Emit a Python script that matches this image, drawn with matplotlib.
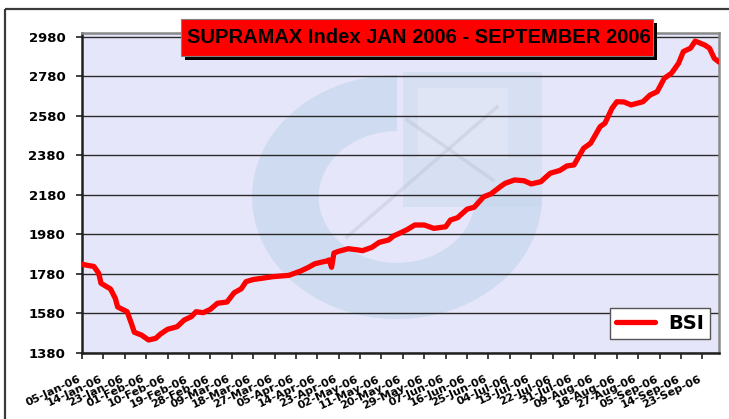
import matplotlib
matplotlib.use('Agg')
import matplotlib.pyplot as plt
from matplotlib.patches import Rectangle, Wedge
from matplotlib.transforms import Affine2D, ScaledTranslation
from matplotlib.lines import Line2D
import datetime as dt

# ---------------- data ----------------
dates = ['2006-01-05', '2006-01-10', '2006-01-12', '2006-01-13', '2006-01-17', '2006-01-19',
         '2006-01-20', '2006-01-24', '2006-01-26', '2006-01-27', '2006-01-30', '2006-02-02',
         '2006-02-05', '2006-02-07', '2006-02-10', '2006-02-14', '2006-02-17', '2006-02-20',
         '2006-02-22', '2006-02-25', '2006-02-28', '2006-03-03', '2006-03-07', '2006-03-10',
         '2006-03-13', '2006-03-15', '2006-03-18', '2006-03-21', '2006-03-26', '2006-04-02',
         '2006-04-07', '2006-04-10', '2006-04-13', '2006-04-18', '2006-04-19', '2006-04-20',
         '2006-04-21', '2006-04-23', '2006-04-27', '2006-05-01', '2006-05-03', '2006-05-07',
         '2006-05-10', '2006-05-14', '2006-05-16', '2006-05-20', '2006-05-22', '2006-05-25',
         '2006-05-29', '2006-06-02', '2006-06-07', '2006-06-09', '2006-06-12', '2006-06-16',
         '2006-06-19', '2006-06-23', '2006-06-26', '2006-06-30', '2006-07-02', '2006-07-06',
         '2006-07-10', '2006-07-13', '2006-07-17', '2006-07-21', '2006-07-25', '2006-07-28',
         '2006-07-31', '2006-08-04', '2006-08-07', '2006-08-11', '2006-08-13', '2006-08-16',
         '2006-08-18', '2006-08-21', '2006-08-24', '2006-08-29', '2006-09-01', '2006-09-04',
         '2006-09-07', '2006-09-10', '2006-09-13', '2006-09-15', '2006-09-18', '2006-09-20',
         '2006-09-24', '2006-09-26', '2006-09-28', '2006-09-30']
bsi = [1829, 1818, 1784, 1733, 1704, 1657,
       1613, 1589, 1522, 1485, 1471, 1446,
       1454, 1476, 1500, 1513, 1547, 1564,
       1589, 1584, 1601, 1632, 1638, 1685,
       1705, 1741, 1752, 1757, 1766, 1773,
       1795, 1812, 1832, 1846, 1851, 1814,
       1886, 1895, 1908, 1902, 1898, 1915,
       1940, 1952, 1972, 1994, 2006, 2028,
       2028, 2011, 2019, 2053, 2065, 2108,
       2118, 2171, 2185, 2222, 2239, 2256,
       2252, 2236, 2247, 2290, 2304, 2327,
       2332, 2416, 2442, 2526, 2543, 2619,
       2652, 2651, 2636, 2652, 2686, 2703,
       2771, 2796, 2847, 2906, 2923, 2959,
       2939, 2923, 2872, 2853]

tick_dates = ['2006-01-05', '2006-01-14', '2006-01-23', '2006-02-01', '2006-02-10', '2006-02-19',
              '2006-02-28', '2006-03-09', '2006-03-18', '2006-03-27', '2006-04-05', '2006-04-14',
              '2006-04-23', '2006-05-02', '2006-05-11', '2006-05-20', '2006-05-29', '2006-06-07',
              '2006-06-16', '2006-06-25', '2006-07-04', '2006-07-13', '2006-07-22', '2006-07-31',
              '2006-08-09', '2006-08-18', '2006-08-27', '2006-09-05', '2006-09-14', '2006-09-23']
tick_labels = ['05-Jan-06', '14-Jan-06', '23-Jan-06', '01-Feb-06', '10-Feb-06', '19-Feb-06',
               '28-Feb-06', '09-Mar-06', '18-Mar-06', '27-Mar-06', '05-Apr-06', '14-Apr-06',
               '23-Apr-06', '02-May-06', '11-May-06', '20-May-06', '29-May-06', '07-Jun-06',
               '16-Jun-06', '25-Jun-06', '04-Jul-06', '13-Jul-06', '22-Jul-06', '31-Jul-06',
               '09-Aug-06', '18-Aug-06', '27-Aug-06', '05-Sep-06', '14-Sep-06', '23-Sep-06']
y_ticks = [1380, 1580, 1780, 1980, 2180, 2380, 2580, 2780, 2980]
x_range = ['2006-01-05', '2006-09-30']
y_range = [1380, 3000]
title = 'SUPRAMAX Index JAN 2006 - SEPTEMBER 2006'
series_name = 'BSI'


def to_date(s):
    return dt.datetime.strptime(s, '%Y-%m-%d')


# ---------------- figure ----------------
W, H = 729, 419
fig = plt.figure(figsize=(W / 100, H / 100), dpi=100)
fig.patch.set_facecolor('white')
px = Affine2D().scale(1 / W, -1 / H).translate(0, 1) + fig.transFigure

# outer chart frame (cropped at right/bottom)
fig.add_artist(Rectangle((5, 9), 800, 500, transform=px, fill=False,
                         edgecolor='#3a3a3a', lw=1.6, zorder=0))

L, R, T, B = 82, 719, 33, 353
ax = fig.add_axes([L / W, 1 - B / H, (R - L) / W, (B - T) / H])
ax.set_facecolor('#E6E6FA')
ax.set_axisbelow(True)

# faint watermark logo
ring_tr = Affine2D().scale(145, 122).translate(397, 197) + px
ax.add_patch(Wedge((0, 0), 1.0, 0, 270, width=0.46, transform=ring_tr,
                   facecolor='#B9D2E8', edgecolor='none', alpha=0.5, zorder=0.2))
ax.add_patch(Rectangle((403, 72), 139, 135, transform=px,
                       facecolor='#C6D8EC', edgecolor='none', alpha=0.45, zorder=0.2))
ax.add_patch(Rectangle((418, 88), 90, 70, transform=px,
                       facecolor='#E6EAF8', edgecolor='none', alpha=0.6, zorder=0.25))
ax.add_line(Line2D([407, 493], [120, 180], transform=px, color='#C0C4D6', lw=2.5,
                   alpha=0.45, zorder=0.3))
ax.add_line(Line2D([497, 347], [107, 237], transform=px, color='#C0C4D6', lw=2.5,
                   alpha=0.45, zorder=0.3))

x = [to_date(d) for d in dates]
ax.plot(x, bsi, color='#FF0000', lw=3.8, solid_joinstyle='round',
        solid_capstyle='round', label=series_name, zorder=3)

ax.set_xlim(to_date(x_range[0]), to_date(x_range[1]))
ax.set_ylim(*y_range)

ax.set_yticks(y_ticks)
ax.set_yticklabels([str(v) for v in y_ticks], fontsize=9.5, fontweight='bold')
ax.set_xticks([to_date(d) for d in tick_dates])
ax.set_xticklabels(tick_labels, rotation=25, ha='right', va='top',
                   fontsize=8, fontweight='bold')
for lab in ax.get_xticklabels():
    lab.set_transform(lab.get_transform() + ScaledTranslation(-3 / 100, 0, fig.dpi_scale_trans))

ax.tick_params(axis='y', length=4, width=1.2, color='#202020', pad=8)
ax.tick_params(axis='x', length=4, width=1.2, color='#202020', pad=11)

ax.yaxis.grid(True, color='#2a2a2a', lw=1)
ax.xaxis.grid(False)

for side in ['left', 'bottom']:
    ax.spines[side].set_color('#202020')
    ax.spines[side].set_linewidth(1.8)
for side in ['top', 'right']:
    ax.spines[side].set_color('#8a8a8a')
    ax.spines[side].set_linewidth(1.8)

leg = ax.legend(loc='lower right', bbox_to_anchor=((710 - L) / (R - L), (B - 339) / (B - T)),
                borderaxespad=0, fancybox=False, framealpha=1, edgecolor='#555555',
                prop={'weight': 'bold', 'size': 14}, handlelength=2.0,
                handletextpad=0.7, borderpad=0.3)
leg.get_frame().set_linewidth(1.0)
leg.get_frame().set_facecolor('white')

# title box with shadow
fig.add_artist(Rectangle((185, 23), 472, 37, transform=px, facecolor='black',
                         edgecolor='none', zorder=10))
fig.add_artist(Rectangle((181, 19), 472, 37, transform=px, facecolor='#FF0000',
                         edgecolor='#808080', lw=0.8, zorder=11))
fig.text(419, 37.5, title, transform=px, ha='center', va='center',
         fontsize=14.5, fontweight='bold', family=['Liberation Sans', 'DejaVu Sans'],
         color='black', zorder=12)

fig.savefig('out.png', dpi=100)
